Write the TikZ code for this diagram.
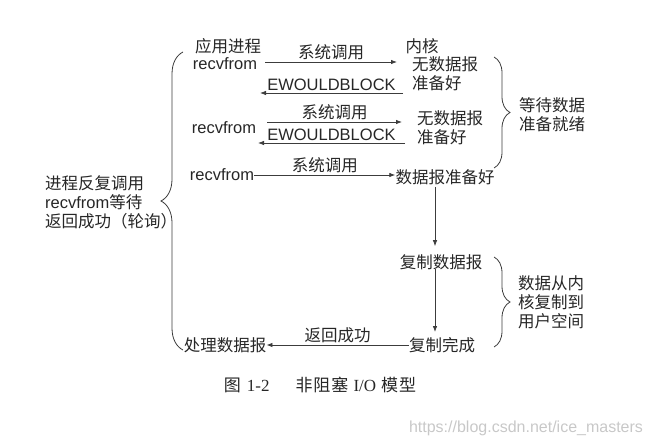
\documentclass[tikz,border=0pt]{standalone}
\usepackage{fontspec}
\setmainfont{Noto Sans CJK SC}
\newfontfamily\enfont{Liberation Sans}
\newfontfamily\serfont{Liberation Serif}
\newcommand{\en}[1]{{\enfont #1}}
\usetikzlibrary{arrows.meta, positioning, decorations.pathreplacing}
\definecolor{ink}{HTML}{262626}
\definecolor{wire}{HTML}{3C3C3C}
\definecolor{mark}{HTML}{C8C8C8}

\begin{document}
\begin{tikzpicture}[x=1pt, y=-1pt,
    >={Latex[length=6pt,width=4.5pt]},
    txt/.style={text=ink, inner sep=0pt, font=\fontsize{16.5}{19}\selectfont},
    multi/.style={txt, align=left},
    call/.style={draw=wire, line width=0.8pt, ->},
    lbl/.style={txt, above=2pt},
    brace/.style={draw=wire, line width=0.8pt, decorate, decoration={brace, amplitude=#1}}]

    \useasboundingbox (0,0) rectangle (650,446);

    % application side
    \node[txt] (app) at (228,46) {应用进程};
    \node[txt] (r1) at (225,64) {\en{recvfrom}};
    \node[txt] (r2) at (224,128) {\en{recvfrom}};
    \node[txt] (r3) at (222,175) {\en{recvfrom}};
    \node[txt] (proc) at (225,345) {处理数据报};
    \node[multi, anchor=west] (loop) at (45,202) {进程反复调用\\\en{recvfrom}等待\\返回成功（轮询）};

    % kernel side
    \node[txt] (kern) at (422,46) {内核};
    \node[multi, anchor=west] (k1) at (412,74) {无数据报\\准备好};
    \node[multi, anchor=west] (k2) at (417,128) {无数据报\\准备好};
    \node[txt] (ready) at (445,177) {数据报准备好};
    \node[txt] (copy) at (441,262) {复制数据报};
    \node[txt] (done) at (442,345) {复制完成};
    \node[multi] (wait) at (552,115) {等待数据\\准备就绪};
    \node[multi] (move) at (551,302) {数据从内\\核复制到\\用户空间};

    % arrow ends
    \coordinate (c1a) at (265,62);  \coordinate (c1b) at (397,62);
    \coordinate (e1a) at (403,93);  \coordinate (e1b) at (260,93);
    \coordinate (c2a) at (267,122); \coordinate (c2b) at (402,122);
    \coordinate (e2a) at (405,143); \coordinate (e2b) at (258,143);
    \coordinate (vx) at (435,0);

    \draw[call] (c1a) -- (c1b) node[lbl, midway] {系统调用};
    \draw[call] (e1a) -- (e1b) node[lbl, midway] {\en{EWOULDBLOCK}};
    \draw[call] (c2a) -- (c2b) node[lbl, midway] {系统调用};
    \draw[call] (e2a) -- (e2b) node[lbl, midway] {\en{EWOULDBLOCK}};
    \draw[call] (r3.east) -- (r3.east -| ready.west) node[lbl, midway] {系统调用};
    \draw[call] ([yshift=-2pt]ready.south -| vx) -- ([yshift=8pt]copy.north -| vx);
    \draw[call] ([yshift=1pt]copy.south -| vx) -- ([yshift=5pt]done.north -| vx);
    \draw[call] (done.west) -- (proc.east) node[lbl, midway] {返回成功};

    % braces
    \draw[brace=22pt] (183,350) -- (183,52);
    \draw[brace=16pt] (494,57) -- (494,168);
    \draw[brace=16pt] (494,257) -- (494,347);

    % caption and mark
    \node[txt, font=\fontsize{17}{20}\selectfont] (cap) at (320,385)
        {图\hspace{6pt}{\serfont 1-2}\hspace{26pt}非\hspace{1pt}阻\hspace{1pt}塞\hspace{5pt}{\serfont I/O}\hspace{5pt}模\hspace{1pt}型};
    \node[txt, text=mark, font=\enfont\fontsize{16}{19}\selectfont] (url) at (526,428) {https://blog.csdn.net/ice\_masters};
\end{tikzpicture}
\end{document}
